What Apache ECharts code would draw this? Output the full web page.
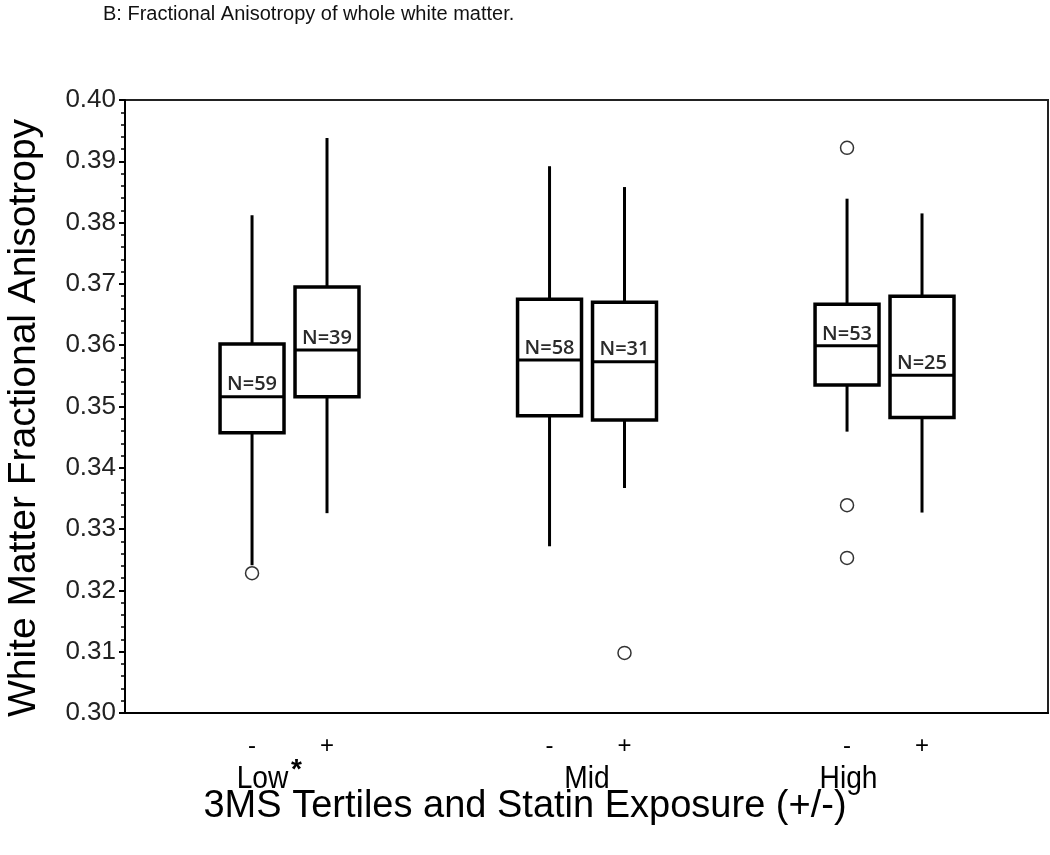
<!DOCTYPE html>
<html>
<head>
<meta charset="utf-8">
<script src="https://cdn.jsdelivr.net/npm/echarts@6/dist/echarts.min.js"></script>
<style>
html,body{margin:0;padding:0;background:#fff;}
#chart{width:1050px;height:855px;}
</style>
</head>
<body>
<div id="chart"></div>
<script>
// ---- data (box order: Low-, Low+, Mid-, Mid+, High-, High+) ----
const groups = ['Low', 'Mid', 'High'];
const statinSigns = ['-', '+'];
const nLabels = ['N=59', 'N=39', 'N=58', 'N=31', 'N=53', 'N=25'];
const whiskerLow  = [0.3241, 0.3326, 0.3272, 0.3367, 0.3459, 0.3327];
const q1Values    = [0.3457, 0.3516, 0.3485, 0.3478, 0.3535, 0.3482];
const medianValues= [0.3516, 0.3592, 0.3576, 0.3573, 0.3599, 0.3551];
const q3Values    = [0.3602, 0.3695, 0.3675, 0.3670, 0.3667, 0.3680];
const whiskerHigh = [0.3812, 0.3938, 0.3892, 0.3858, 0.3839, 0.3815];
// outliers: [box index, value]
const outliers = [[0, 0.3228], [3, 0.3098], [4, 0.3922], [4, 0.3339], [4, 0.3253]];
const yTicks = [0.30, 0.31, 0.32, 0.33, 0.34, 0.35, 0.36, 0.37, 0.38, 0.39, 0.40];

// ---- layout ----
const X_MAX = 3.1025, GROUP0 = 0.553, OFF = 0.126, BOX_W = 0.215;
function boxX(i) { const g = Math.floor(i / 2), s = i % 2; return GROUP0 + g + (s ? OFF : -OFF); }

const boxData = nLabels.map((_, i) => [boxX(i), whiskerLow[i], q1Values[i], medianValues[i], q3Values[i], whiskerHigh[i]]);
const outlierData = outliers.map(o => [boxX(o[0]), o[1]]);
const signData = nLabels.map((_, i) => [boxX(i), statinSigns[i % 2]]);
const groupData = groups.map((g, k) => [GROUP0 + k, g]);

const chart = echarts.init(document.getElementById('chart'));
const FONT = 'Liberation Sans, Arial, sans-serif';
const groupLabelDx = [-27, 0, -36];

chart.setOption({
  animation: false,
  grid: { left: 125, right: 2, top: 100, height: 613, show: true, borderColor: '#222', borderWidth: 2 },
  xAxis: {
    type: 'value', min: 0, max: X_MAX,
    axisLine: { show: true, lineStyle: { color: '#000', width: 2 } },
    axisTick: { show: false }, axisLabel: { show: false }, splitLine: { show: false }
  },
  yAxis: {
    type: 'value', min: yTicks[0], max: yTicks[yTicks.length - 1], interval: 0.01,
    axisLine: { show: true, lineStyle: { color: '#000', width: 2 } },
    axisTick: { show: true, length: 6, lineStyle: { color: '#000', width: 2 } },
    minorTick: { show: true, splitNumber: 5, length: 4, lineStyle: { color: '#000', width: 1.5 } },
    splitLine: { show: false },
    axisLabel: { formatter: v => v.toFixed(2), fontSize: 26, color: '#222', fontFamily: FONT, margin: 9 }
  },
  graphic: [
    { type: 'text', left: 103, top: 4, style: { text: 'B: Fractional Anisotropy of whole white matter.', font: '20px ' + FONT, fill: '#111' } },
    { type: 'text', x: 24, y: 418, rotation: Math.PI / 2,
      style: { text: 'White Matter Fractional Anisotropy', font: '39px ' + FONT, fill: '#000', align: 'center', verticalAlign: 'middle' } },
    { type: 'text', x: 525, y: 807,
      style: { text: '3MS Tertiles and Statin Exposure (+/-)', font: '38px ' + FONT, fill: '#000', align: 'center', verticalAlign: 'middle' } }
  ],
  series: [
    {
      type: 'custom', name: 'boxes', data: boxData,
      encode: { x: 0, y: [1, 2, 3, 4, 5] },
      renderItem: function (params, api) {
        const x = api.value(0);
        const lo = api.coord([x, api.value(1)]);
        const q1 = api.coord([x, api.value(2)]);
        const med = api.coord([x, api.value(3)]);
        const q3 = api.coord([x, api.value(4)]);
        const hi = api.coord([x, api.value(5)]);
        const hw = api.size([BOX_W, 0])[0] / 2;
        const cx = q1[0];
        const ls = { stroke: '#000', lineWidth: 3 };
        return {
          type: 'group',
          children: [
            { type: 'line', shape: { x1: cx, y1: hi[1], x2: cx, y2: q3[1] }, style: ls },
            { type: 'line', shape: { x1: cx, y1: q1[1], x2: cx, y2: lo[1] }, style: ls },
            { type: 'rect', shape: { x: cx - hw, y: q3[1], width: 2 * hw, height: q1[1] - q3[1] },
              style: { fill: '#fff', stroke: '#000', lineWidth: 3.5 } },
            { type: 'line', shape: { x1: cx - hw, y1: med[1], x2: cx + hw, y2: med[1] }, style: ls },
            { type: 'text', x: cx, y: med[1] - 2,
              style: { text: nLabels[params.dataIndex], font: '600 20px "Open Sans", sans-serif', fill: '#2a2a2a', align: 'center', verticalAlign: 'bottom' } }
          ]
        };
      }
    },
    {
      type: 'scatter', name: 'outliers', data: outlierData,
      symbol: 'circle', symbolSize: 13,
      itemStyle: { color: '#fff', borderColor: '#000', borderWidth: 1.5 }
    },
    {
      type: 'custom', name: 'signs', data: signData, clip: false,
      encode: { x: 0 },
      renderItem: function (params, api) {
        const p = api.coord([api.value(0), yTicks[0]]);
        return { type: 'text', x: p[0], y: p[1] + 33,
          style: { text: signData[params.dataIndex][1], font: '24px ' + FONT, fill: '#000', align: 'center', verticalAlign: 'middle' } };
      }
    },
    {
      type: 'custom', name: 'groups', data: groupData, clip: false,
      encode: { x: 0 },
      renderItem: function (params, api) {
        const k = params.dataIndex;
        const p = api.coord([api.value(0), yTicks[0]]);
        const cx = p[0] + groupLabelDx[k];
        const children = [{ type: 'text', x: cx, y: p[1] + 66, scaleX: 0.88, originX: 0, originY: 0,
          style: { text: groups[k], font: '32px ' + FONT, fill: '#000', align: 'center', verticalAlign: 'middle' } }];
        if (k === 0) {
          children.push({ type: 'text', x: cx + 34, y: p[1] + 57,
            style: { text: '*', font: 'bold 28px ' + FONT, fill: '#000', align: 'center', verticalAlign: 'middle' } });
        }
        return { type: 'group', children: children };
      }
    }
  ]
});
</script>
</body>
</html>
